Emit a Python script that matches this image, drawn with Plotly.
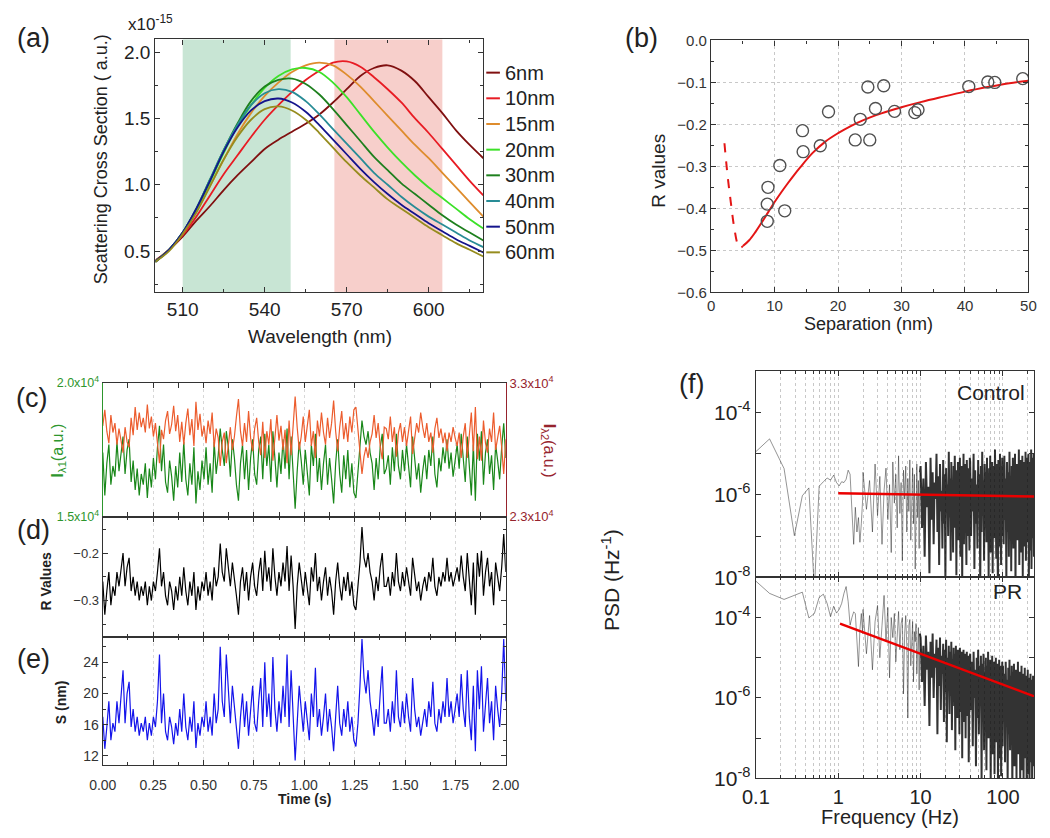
import numpy as np
import plotly.graph_objects as go

W, H = 1050, 838
FONT = 'Liberation Sans, Arial, sans-serif'

# ---------------- (a) scattering spectra ----------------
wavelength = [500, 505, 510, 515, 520, 525, 530, 535, 540, 545, 550, 555, 560,
              565, 570, 575, 580, 585, 590, 595, 600, 605, 610, 615, 620]
sca_6nm = [0.43, 0.51, 0.61, 0.73, 0.84, 0.96, 1.07, 1.17, 1.27, 1.34, 1.40, 1.46, 1.53,
           1.62, 1.72, 1.82, 1.88, 1.90, 1.86, 1.78, 1.66, 1.54, 1.41, 1.30, 1.20]
sca_10nm = [0.42, 0.51, 0.62, 0.76, 0.92, 1.08, 1.22, 1.36, 1.49, 1.60, 1.70, 1.79, 1.86,
            1.92, 1.93, 1.89, 1.81, 1.72, 1.62, 1.50, 1.39, 1.27, 1.15, 1.03, 0.92]
sca_15nm = [0.42, 0.51, 0.63, 0.80, 0.99, 1.19, 1.38, 1.54, 1.67, 1.77, 1.85, 1.90, 1.92,
            1.90, 1.83, 1.74, 1.63, 1.52, 1.41, 1.30, 1.20, 1.09, 0.98, 0.87, 0.76]
sca_20nm = [0.42, 0.51, 0.64, 0.81, 1.02, 1.24, 1.44, 1.60, 1.73, 1.82, 1.87, 1.88, 1.85,
            1.77, 1.66, 1.53, 1.40, 1.28, 1.17, 1.07, 0.98, 0.90, 0.82, 0.74, 0.67]
sca_30nm = [0.42, 0.51, 0.64, 0.82, 1.04, 1.26, 1.46, 1.63, 1.74, 1.79, 1.80, 1.76, 1.68,
            1.57, 1.45, 1.33, 1.21, 1.11, 1.01, 0.93, 0.85, 0.77, 0.70, 0.64, 0.58]
sca_40nm = [0.42, 0.51, 0.64, 0.82, 1.04, 1.26, 1.45, 1.60, 1.69, 1.72, 1.70, 1.63, 1.53,
            1.42, 1.31, 1.20, 1.09, 1.00, 0.91, 0.83, 0.76, 0.70, 0.64, 0.58, 0.53]
sca_50nm = [0.42, 0.51, 0.64, 0.82, 1.03, 1.25, 1.43, 1.56, 1.63, 1.65, 1.62, 1.55, 1.45,
            1.34, 1.23, 1.12, 1.02, 0.93, 0.85, 0.78, 0.71, 0.65, 0.59, 0.54, 0.49]
sca_60nm = [0.42, 0.50, 0.63, 0.79, 0.99, 1.19, 1.36, 1.49, 1.57, 1.59, 1.56, 1.49, 1.39,
            1.28, 1.17, 1.07, 0.98, 0.89, 0.82, 0.75, 0.68, 0.62, 0.56, 0.51, 0.46]
gap_names = ['6nm', '10nm', '15nm', '20nm', '30nm', '40nm', '50nm', '60nm']
gap_colors = ['rgb(128,16,16)', 'rgb(232,28,36)', 'rgb(222,140,45)', 'rgb(60,225,40)',
              'rgb(30,128,30)', 'rgb(40,140,150)', 'rgb(20,20,140)', 'rgb(150,140,30)']
green_band = [510, 549.5]
red_band = [565.5, 605]

# ---------------- (b) R vs separation ----------------
sep_pts = [8.96, 8.85, 8.85, 10.83, 11.6, 14.4, 14.5, 17.2, 18.5, 22.7, 23.5, 24.7,
           25.0, 25.9, 27.2, 28.9, 32.1, 32.6, 40.6, 43.6, 44.7, 49.1]
r_pts = [-0.350, -0.390, -0.431, -0.298, -0.406, -0.215, -0.265, -0.251, -0.170, -0.237,
         -0.188, -0.111, -0.237, -0.162, -0.108, -0.169, -0.172, -0.165, -0.110, -0.099,
         -0.100, -0.091]
fit_sep = [5, 6, 7, 8, 9, 10, 11, 12, 13, 14, 16, 18, 20, 22, 24, 26, 28, 30, 33, 36, 40, 44, 47, 50]
fit_r = [-0.490, -0.476, -0.456, -0.433, -0.409, -0.385, -0.363, -0.342, -0.322, -0.303,
         -0.268, -0.241, -0.221, -0.204, -0.190, -0.178, -0.168, -0.159, -0.147, -0.136,
         -0.122, -0.110, -0.102, -0.096]
ext_sep = [2.1, 2.6, 3.1, 3.65, 4.2, 4.6, 5.0]
ext_r = [-0.245, -0.323, -0.385, -0.447, -0.486, -0.494, -0.490]

# ---------------- (c) intensities (x10^4 a.u.) ----------------
i_lambda1 = [
    1.74, 1.58, 1.70, 1.77, 1.62, 1.69, 1.65, 1.78, 1.67, 1.73,
    1.80, 1.66, 1.75, 1.79, 1.63, 1.71, 1.60, 1.68, 1.58, 1.66,
    1.62, 1.70, 1.57, 1.68, 1.61, 1.72, 1.64, 1.76, 1.84, 1.67,
    1.77, 1.63, 1.59, 1.71, 1.65, 1.56, 1.69, 1.61, 1.74, 1.63,
    1.78, 1.64, 1.58, 1.70, 1.62, 1.76, 1.55, 1.67, 1.60, 1.71,
    1.64, 1.76, 1.62, 1.70, 1.59, 1.78, 1.66, 1.73, 1.83, 1.75,
    1.69, 1.82, 1.76, 1.65, 1.79, 1.72, 1.62, 1.56, 1.70, 1.77,
    1.64, 1.75, 1.60, 1.72, 1.79, 1.66, 1.62, 1.75, 1.80, 1.64,
    1.81, 1.69, 1.77, 1.63, 1.82, 1.72, 1.61, 1.74, 1.66, 1.79,
    1.68, 1.83, 1.64, 1.80, 1.66, 1.53, 1.67, 1.78, 1.71, 1.62,
    1.75, 1.67, 1.58, 1.77, 1.69, 1.81, 1.63, 1.72, 1.60, 1.70,
    1.77, 1.62, 1.72, 1.64, 1.55, 1.70, 1.79, 1.66, 1.59, 1.73,
    1.64, 1.75, 1.61, 1.70, 1.59, 1.57, 1.67, 1.79, 1.86, 1.80,
    1.77, 1.82, 1.74, 1.70, 1.60, 1.72, 1.64, 1.76, 1.81, 1.66,
    1.68, 1.73, 1.62, 1.76, 1.67, 1.81, 1.69, 1.64, 1.75, 1.67,
    1.77, 1.69, 1.61, 1.80, 1.72, 1.64, 1.70, 1.59, 1.67, 1.73,
    1.64, 1.75, 1.69, 1.80, 1.66, 1.61, 1.72, 1.67, 1.76, 1.70,
    1.79, 1.68, 1.74, 1.65, 1.71, 1.77, 1.68, 1.81, 1.72, 1.63,
    1.80, 1.69, 1.58, 1.77, 1.56, 1.81, 1.71, 1.82, 1.62, 1.74,
    1.79, 1.66, 1.73, 1.60, 1.77, 1.71, 1.64, 1.76, 1.85, 1.72]
i_lambda2 = [
    2.98, 3.10, 2.94, 2.85, 3.06, 2.93, 3.00, 2.84, 2.96, 2.88,
    2.78, 2.97, 2.86, 2.82, 3.04, 2.91, 3.12, 2.95, 3.08, 2.97,
    3.04, 2.93, 3.14, 2.96, 3.05, 2.90, 3.00, 2.85, 2.70, 2.95,
    2.88, 3.02, 3.09, 2.92, 2.99, 3.13, 2.94, 3.06, 2.86, 3.01,
    2.84, 3.00, 3.11, 2.91, 3.03, 2.83, 3.16, 2.95, 3.07, 2.90,
    2.98, 2.85, 3.02, 2.92, 3.08, 2.82, 2.96, 2.89, 2.68, 2.86,
    2.93, 2.70, 2.83, 2.97, 2.80, 2.90, 3.05, 3.18, 2.94, 2.83,
    3.00, 2.86, 3.09, 2.89, 2.79, 2.96, 3.04, 2.86, 2.76, 3.01,
    2.74, 2.94, 2.84, 3.03, 2.72, 2.90, 3.06, 2.87, 2.98, 2.80,
    2.95, 2.70, 3.02, 2.76, 2.99, 3.20, 2.97, 2.80, 2.90, 3.05,
    2.86, 2.97, 3.10, 2.83, 2.94, 2.74, 3.02, 2.90, 3.08, 2.93,
    2.84, 3.04, 2.89, 3.00, 3.17, 2.94, 2.79, 2.97, 3.09, 2.88,
    3.00, 2.86, 3.05, 2.93, 3.10, 3.12, 2.97, 2.78, 2.62, 2.75,
    2.82, 2.74, 2.86, 2.92, 3.06, 2.89, 3.00, 2.83, 2.73, 2.97,
    2.96, 2.88, 3.05, 2.86, 2.97, 2.75, 2.93, 3.00, 2.86, 2.97,
    2.83, 2.94, 3.05, 2.77, 2.90, 3.00, 2.93, 3.08, 2.97, 2.89,
    3.00, 2.86, 2.93, 2.78, 2.96, 3.04, 2.89, 2.96, 2.85, 2.93,
    2.79, 2.93, 2.86, 2.97, 2.89, 2.83, 2.93, 2.74, 2.90, 3.00,
    2.74, 2.93, 3.08, 2.79, 3.12, 2.73, 2.90, 2.72, 3.02, 2.85,
    2.78, 2.96, 2.86, 3.08, 2.80, 2.89, 2.98, 2.82, 2.62, 2.88]

# ---------------- (d) R values ----------------
r_values = [
    -0.26, -0.33, -0.28, -0.24, -0.31, -0.27, -0.29, -0.24, -0.27, -0.23,
    -0.20, -0.27, -0.23, -0.21, -0.28, -0.25, -0.29, -0.26, -0.30, -0.27,
    -0.29, -0.26, -0.31, -0.27, -0.30, -0.26, -0.28, -0.24, -0.19, -0.27,
    -0.24, -0.29, -0.31, -0.26, -0.28, -0.32, -0.27, -0.30, -0.25, -0.29,
    -0.23, -0.28, -0.31, -0.26, -0.29, -0.24, -0.32, -0.27, -0.30, -0.26,
    -0.28, -0.24, -0.29, -0.26, -0.30, -0.23, -0.27, -0.25, -0.18, -0.24,
    -0.26, -0.19, -0.23, -0.27, -0.22, -0.25, -0.29, -0.33, -0.26, -0.23,
    -0.28, -0.24, -0.30, -0.25, -0.22, -0.27, -0.29, -0.24, -0.21, -0.28,
    -0.195, -0.26, -0.23, -0.28, -0.19, -0.25, -0.29, -0.24, -0.27, -0.22,
    -0.26, -0.185, -0.28, -0.205, -0.27, -0.36, -0.27, -0.22, -0.25, -0.29,
    -0.24, -0.27, -0.31, -0.23, -0.26, -0.20, -0.28, -0.25, -0.30, -0.26,
    -0.23, -0.29, -0.25, -0.28, -0.33, -0.26, -0.22, -0.27, -0.30, -0.25,
    -0.28, -0.24, -0.29, -0.26, -0.31, -0.32, -0.27, -0.22, -0.145, -0.21,
    -0.23, -0.20, -0.24, -0.26, -0.30, -0.25, -0.28, -0.23, -0.20, -0.27,
    -0.27, -0.25, -0.29, -0.24, -0.27, -0.20, -0.26, -0.28, -0.24, -0.27,
    -0.23, -0.26, -0.29, -0.21, -0.25, -0.28, -0.26, -0.30, -0.27, -0.25,
    -0.28, -0.24, -0.26, -0.21, -0.27, -0.29, -0.25, -0.27, -0.24, -0.26,
    -0.21, -0.26, -0.24, -0.27, -0.25, -0.23, -0.26, -0.205, -0.25, -0.28,
    -0.20, -0.26, -0.31, -0.22, -0.33, -0.20, -0.25, -0.195, -0.29, -0.24,
    -0.21, -0.27, -0.24, -0.31, -0.22, -0.25, -0.28, -0.23, -0.16, -0.24]

# ---------------- (e) separation S (nm) ----------------
s_values = [
    17.0, 12.9, 15.7, 19.0, 14.0, 16.2, 15.1, 19.0, 16.2, 20.0,
    23.0, 16.2, 20.0, 21.5, 15.7, 18.0, 15.1, 17.0, 14.6, 16.2,
    15.1, 17.0, 14.0, 16.2, 14.6, 17.0, 15.7, 19.0, 25.0, 16.2,
    20.0, 15.1, 14.0, 17.0, 15.7, 13.5, 16.2, 14.6, 18.0, 15.1,
    20.0, 15.7, 14.0, 17.0, 15.1, 19.0, 13.0, 16.2, 14.6, 17.0,
    15.7, 19.0, 15.1, 17.0, 14.6, 20.0, 16.2, 18.0, 26.0, 19.0,
    17.0, 25.0, 20.0, 16.2, 21.0, 18.0, 15.1, 12.9, 17.0, 20.0,
    15.7, 19.0, 14.6, 18.0, 21.0, 16.2, 15.1, 19.0, 22.0, 15.7,
    24.0, 17.0, 20.0, 15.7, 24.7, 18.0, 15.1, 19.0, 16.2, 21.0,
    17.0, 25.0, 15.7, 23.0, 16.2, 11.4, 16.2, 21.0, 18.0, 15.1,
    19.0, 16.2, 14.0, 20.0, 17.0, 23.3, 15.7, 18.0, 14.6, 17.0,
    20.0, 15.1, 18.0, 15.7, 12.6, 17.0, 21.0, 16.2, 14.6, 18.0,
    15.7, 19.0, 15.1, 17.0, 14.0, 13.2, 16.2, 21.0, 27.0, 22.0,
    20.0, 23.0, 19.0, 17.0, 14.6, 18.0, 15.7, 20.0, 23.5, 16.2,
    16.2, 18.0, 15.1, 19.0, 16.2, 23.0, 17.0, 15.7, 19.0, 16.2,
    20.0, 17.0, 15.1, 22.0, 18.0, 15.7, 17.0, 14.6, 16.2, 18.0,
    15.7, 19.0, 17.0, 21.5, 16.2, 15.1, 18.0, 16.2, 19.0, 17.0,
    22.0, 17.0, 19.0, 16.2, 18.0, 20.0, 17.0, 22.5, 18.0, 15.7,
    23.0, 17.0, 14.0, 21.0, 12.6, 23.0, 18.0, 23.5, 15.1, 19.0,
    22.0, 16.2, 19.0, 14.0, 21.0, 18.0, 15.7, 20.0, 27.0, 19.0]

# ---------------- (f) power spectra, log10(PSD / Hz^-1) ----------------
ctrl_lo = [-5.2, -4.64, -5.36, -6.99, -6.02, -5.83, -8.3, -5.79, -5.68, -5.59, -5.64, -5.52,
           -5.70, -5.78, -5.68, -5.70, -5.62, -5.40, -5.50, -6.40, -7.20, -6.30, -6.90,
           -6.55, -7.15, -6.70, -6.10]
ctrl_2_10 = [-5.45, -6.35, -5.65, -6.9, -5.25, -6.5, -5.55, -7.2, -5.9, -5.35, -6.6, -5.75,
             -7.4, -5.2, -6.2, -5.5, -6.8, -5.05, -6.45, -5.7, -7.6, -5.4, -6.1, -5.3, -6.9,
             -5.6, -6.4, -5.15, -7.1, -5.8, -5.35, -6.7, -5.5, -7.8, -5.95, -5.25, -6.55,
             -5.65, -7.3, -5.45]
ctrl_10_40 = [-5.3, -6.8, -5.6, -7.5, -5.2, -6.3, -5.8, -7.9, -5.1, -6.6, -5.45, -7.2, -5.7,
              -6.1, -5.0, -6.9, -5.55, -7.7, -5.25, -6.4, -5.9, -7.3, -5.15, -6.7, -5.5, -8.1,
              -5.35, -6.2, -5.75, -7.0, -4.95, -6.55, -5.6, -7.6, -5.2, -6.35, -5.85, -7.4,
              -5.3, -6.8, -5.05, -6.15, -5.65, -7.95, -5.4, -6.6, -5.2, -7.1, -5.8, -6.3,
              -5.1, -7.5, -5.5, -6.75, -5.3, -8.2, -5.7, -6.45, -5.0, -7.2, -5.45, -6.9,
              -5.25, -6.2, -5.9, -7.7, -5.15, -6.5, -5.6, -7.0, -5.35, -6.35, -5.8, -7.35, -5.1]
ctrl_40_100 = [-5.2, -7.0, -5.6, -6.4, -5.0, -7.8, -5.4, -6.7, -5.75, -7.3, -5.15, -6.2, -5.5,
               -8.3, -5.3, -6.9, -4.95, -6.5, -5.65, -7.6, -5.25, -6.3, -5.45, -7.15, -5.1,
               -6.8, -5.8, -8.0, -5.35, -6.45, -5.05, -7.4, -5.55, -6.6, -5.2, -7.9, -5.7,
               -6.25, -5.3, -7.05, -4.9, -6.75, -5.5, -7.55, -5.25, -6.35, -5.6, -8.4, -5.15,
               -6.85, -5.4, -7.25, -5.0, -6.55, -5.7, -7.7, -5.3, -6.4, -5.1, -7.0]
ctrl_100_240 = [-5.35, -7.2, -5.05, -6.6, -5.6, -8.1, -5.2, -6.9, -5.45, -7.5, -4.95, -6.4,
                -5.7, -7.85, -5.3, -6.7, -5.1, -7.3, -5.55, -6.3, -5.0, -8.3, -5.4, -6.8,
                -5.25, -7.1, -5.65, -6.5, -4.9, -7.7, -5.35, -6.95, -5.15, -7.4, -5.5, -6.35,
                -5.05, -8.0, -5.45, -6.75, -5.2, -7.25, -5.75, -6.55, -4.95, -7.6, -5.3,
                -6.85, -5.1, -7.15, -5.6, -6.45, -5.0, -8.2, -5.4, -6.9, -5.2, -7.35, -5.55,
                -6.6, -4.9, -7.8, -5.3, -6.7, -5.1, -7.05, -5.45, -6.4, -5.0, -7.5, -5.25]
pr_lo = [-2.85, -3.4, -3.55, -3.45, -3.37, -4.01, -3.9, -3.5, -3.42, -3.65, -3.98, -3.72,
         -3.89, -3.8, -3.65, -3.4, -3.23, -3.6, -4.19, -4.0, -3.86, -3.9, -4.5, -5.22, -4.3,
         -3.9, -4.4]
pr_2_10 = [-3.8, -4.9, -3.95, -5.3, -4.1, -3.7, -5.0, -4.2, -3.45, -4.6, -3.75, -5.5, -4.0,
           -4.5, -3.9, -5.1, -4.3, -3.85, -4.8, -4.15, -4.0, -5.9, -4.4, -3.95, -4.7, -6.5,
           -4.2, -4.05, -5.2, -4.5, -4.1, -5.6, -4.35, -4.6, -4.15, -5.4, -4.45, -4.25, -5.8,
           -4.4]
pr_10_40 = [-4.5, -5.6, -4.7, -6.2, -4.45, -5.3, -4.85, -6.7, -4.6, -5.5, -4.4, -6.0, -4.9,
            -5.25, -4.55, -6.9, -4.75, -5.7, -4.5, -6.3, -4.95, -5.4, -4.65, -6.6, -4.8, -5.85,
            -4.55, -7.1, -5.0, -5.5, -4.7, -6.4, -4.85, -5.95, -4.6, -6.8, -5.05, -5.6, -4.75,
            -6.2, -4.9, -7.3, -4.7, -5.75, -5.1, -6.5, -4.8, -5.9, -4.95, -6.9, -4.75, -5.65,
            -5.15, -6.35, -4.85, -7.5, -5.0, -5.8, -4.8, -6.6, -5.2, -6.0, -4.9, -7.0, -5.05,
            -5.7, -4.85, -6.45, -5.25, -6.1, -4.95, -7.6, -5.1, -5.9, -5.0]
pr_40_100 = [-4.9, -6.3, -5.1, -7.2, -4.85, -6.0, -5.3, -7.7, -5.0, -6.5, -4.8, -6.9, -5.2,
             -6.1, -4.95, -8.0, -5.15, -6.6, -4.9, -7.3, -5.35, -6.2, -5.0, -7.8, -5.2, -6.7,
             -4.85, -7.0, -5.4, -6.3, -5.05, -8.2, -5.25, -6.55, -4.95, -7.4, -5.45, -6.15,
             -5.1, -7.9, -5.3, -6.8, -5.0, -7.1, -5.5, -6.4, -5.15, -8.3, -5.35, -6.65, -5.05,
             -7.5, -5.55, -6.25, -5.2, -7.95, -5.4, -6.9, -5.1, -7.2]
pr_100_240 = [-5.2, -6.6, -5.4, -7.6, -5.1, -6.3, -5.55, -8.1, -5.25, -6.9, -5.05, -7.3, -5.45,
              -6.5, -5.2, -8.4, -5.35, -6.8, -5.15, -7.7, -5.6, -6.4, -5.3, -8.0, -5.45, -7.0,
              -5.1, -7.4, -5.65, -6.6, -5.35, -8.3, -5.5, -6.85, -5.2, -7.8, -5.7, -6.45, -5.4,
              -8.2, -5.55, -7.1, -5.25, -7.5, -5.75, -6.7, -5.45, -8.4, -5.6, -6.95, -5.3, -7.9,
              -5.8, -6.55, -5.5, -8.1, -5.65, -7.2, -5.4, -7.6, -5.85, -6.8, -5.55, -8.3, -5.7,
              -7.05, -5.45, -7.7, -5.9, -6.65, -5.6]
ctrl_fit_f = [1.0, 240]
ctrl_fit = [-5.96, -6.04]
pr_fit_f = [1.05, 240]
pr_fit = [-4.15, -5.96]


def freq_grid(n_lo, n2, n3, n4, n5):
    # spectral sampling: fine linear grid below 2 Hz, coarser steps above
    return np.concatenate([np.arange(1, n_lo + 1) * 0.0733,
                           np.linspace(2.0, 9.8, n2), np.linspace(10, 39.6, n3),
                           np.linspace(40, 99, n4), np.linspace(100, 240, n5)])


ctrl_f = freq_grid(len(ctrl_lo), len(ctrl_2_10), len(ctrl_10_40), len(ctrl_40_100), len(ctrl_100_240))
ctrl_psd = 10 ** np.array(ctrl_lo + ctrl_2_10 + ctrl_10_40 + ctrl_40_100 + ctrl_100_240)
pr_f = freq_grid(len(pr_lo), len(pr_2_10), len(pr_10_40), len(pr_40_100), len(pr_100_240))
pr_psd = 10 ** np.array(pr_lo + pr_2_10 + pr_10_40 + pr_40_100 + pr_100_240)
n_soft = len(ctrl_lo) + len(ctrl_2_10)     # below 10 Hz the trace is drawn lighter

time_s = np.linspace(0, 2, len(r_values))

# ---------------- figure ----------------
fig = go.Figure()

for name, ys, col in zip(gap_names,
                         [sca_6nm, sca_10nm, sca_15nm, sca_20nm, sca_30nm, sca_40nm, sca_50nm, sca_60nm],
                         gap_colors):
    fig.add_trace(go.Scatter(x=wavelength, y=ys, name=name, mode='lines', showlegend=False,
                             line=dict(color=col, width=1.8, shape='spline', smoothing=1),
                             xaxis='x', yaxis='y'))

fig.add_trace(go.Scatter(x=fit_sep, y=fit_r, mode='lines', showlegend=False,
                         line=dict(color='rgb(228,22,22)', width=2, shape='spline'),
                         xaxis='x2', yaxis='y2'))
fig.add_trace(go.Scatter(x=ext_sep, y=ext_r, mode='lines', showlegend=False,
                         line=dict(color='rgb(228,22,22)', width=2, dash='dash', shape='spline'),
                         xaxis='x2', yaxis='y2'))
fig.add_trace(go.Scatter(x=sep_pts, y=r_pts, mode='markers', showlegend=False,
                         marker=dict(symbol='circle-open', size=12, color='rgb(80,80,80)',
                                     line=dict(width=1.4)),
                         xaxis='x2', yaxis='y2'))

fig.add_trace(go.Scatter(x=time_s, y=i_lambda1, mode='lines', showlegend=False,
                         line=dict(color='rgb(25,135,25)', width=1.2), xaxis='x3', yaxis='y3'))
fig.add_trace(go.Scatter(x=time_s, y=i_lambda2, mode='lines', showlegend=False,
                         line=dict(color='rgb(236,92,45)', width=1.2), xaxis='x3', yaxis='y4'))
fig.add_trace(go.Scatter(x=time_s, y=r_values, mode='lines', showlegend=False,
                         line=dict(color='black', width=1.2), xaxis='x5', yaxis='y5'))
fig.add_trace(go.Scatter(x=time_s, y=s_values, mode='lines', showlegend=False,
                         line=dict(color='rgb(20,20,235)', width=1.2), xaxis='x6', yaxis='y6'))

soft_line = dict(color='rgba(0,0,0,0.42)', width=1)
dense_line = dict(color='rgba(0,0,0,0.8)', width=2)
for f, psd, fit_f, fit, xa, ya in [(ctrl_f, ctrl_psd, ctrl_fit_f, ctrl_fit, 'x7', 'y7'),
                                   (pr_f, pr_psd, pr_fit_f, pr_fit, 'x8', 'y8')]:
    fig.add_trace(go.Scatter(x=f[:n_soft], y=psd[:n_soft], mode='lines', showlegend=False,
                             line=soft_line, xaxis=xa, yaxis=ya))
    fig.add_trace(go.Scatter(x=f[n_soft - 1:], y=psd[n_soft - 1:], mode='lines', showlegend=False,
                             line=dense_line, xaxis=xa, yaxis=ya))
    fig.add_trace(go.Scatter(x=fit_f, y=10 ** np.array(fit), mode='lines', showlegend=False,
                             line=dict(color='rgb(235,0,0)', width=2.5), xaxis=xa, yaxis=ya))


def dom_x(a, b):
    return [a / W, b / W]


def dom_y(top, bottom):
    return [1 - bottom / H, 1 - top / H]


def box(**kw):
    d = dict(showline=True, linecolor='#333', linewidth=1.3, mirror='allticks',
             ticks='inside', ticklen=5, tickcolor='#333', zeroline=False, showgrid=False,
             tickfont=dict(family=FONT, size=14, color='#333'))
    d.update(kw)
    return d


grid_dot = dict(showgrid=True, gridcolor='rgb(200,200,200)', griddash='dot', gridwidth=1)
time_grid = dict(showgrid=True, gridcolor='rgb(215,215,215)', griddash='dot', gridwidth=1)
minor_f = [v * d for d in (0.1, 1, 10, 100) for v in range(2, 10) if v * d <= 240]
green_c = 'rgb(45,150,45)'
red_c = 'rgb(150,35,45)'
TX = [83, 497]          # time panels, left/right px

fig.update_layout(
    width=W, height=H, margin=dict(l=0, r=0, t=0, b=0),
    paper_bgcolor='white', plot_bgcolor='white', showlegend=False,
    font=dict(family=FONT, color='#222'),
    xaxis=box(domain=dom_x(137, 474), anchor='y', range=[500, 620], tickvals=[510, 540, 570, 600],
              minor=dict(dtick=15, tick0=0, ticks='inside', ticklen=3, tickcolor='#333'),
              tickfont=dict(family=FONT, size=19, color='#222')),
    yaxis=box(domain=dom_y(23, 282), anchor='x', range=[0.19, 2.095], tickvals=[0.5, 1.0, 1.5, 2.0],
              tickformat='.1f',
              minor=dict(dtick=0.25, ticks='inside', ticklen=3, tickcolor='#333'),
              tickfont=dict(family=FONT, size=19, color='#222')),
    xaxis2=box(domain=dom_x(708, 1034), anchor='y2', range=[0, 50], dtick=10,
               minor=dict(dtick=5, ticks='inside', ticklen=3, tickcolor='#333'),
               tickfont=dict(family=FONT, size=15, color='#333'), **grid_dot),
    yaxis2=box(domain=dom_y(24, 282), anchor='x2', range=[-0.6, 0.0], dtick=0.1, tickformat='.1f',
               minor=dict(dtick=0.05, ticks='inside', ticklen=3, tickcolor='#333'),
               tickfont=dict(family=FONT, size=15, color='#333'), **grid_dot),
    xaxis3=box(domain=dom_x(*TX), anchor='y3', range=[0, 2], dtick=0.25, showticklabels=False,
               minor=dict(dtick=0.125, ticks='inside', ticklen=3, tickcolor='#333'), **time_grid),
    yaxis3=dict(domain=dom_y(375, 512), anchor='x3', range=[1.4999, 2.0001], tickvals=[1.5, 2.0],
                ticktext=['1.5x10<sup>4</sup>', '2.0x10<sup>4</sup>'], showline=True,
                linecolor=green_c, linewidth=1.3, ticks='', showgrid=False, zeroline=False,
                tickfont=dict(family=FONT, size=12.5, color=green_c)),
    yaxis4=dict(overlaying='y3', side='right', anchor='x3', range=[2.2999, 3.3001],
                tickvals=[2.3, 3.3], ticktext=['2.3x10<sup>4</sup>', '3.3x10<sup>4</sup>'],
                showline=True, linecolor=red_c, linewidth=1.3, ticks='', showgrid=False,
                zeroline=False, tickfont=dict(family=FONT, size=13, color=red_c)),
    xaxis5=box(domain=dom_x(*TX), anchor='y5', range=[0, 2], dtick=0.25, showticklabels=False,
               minor=dict(dtick=0.125, ticks='inside', ticklen=3, tickcolor='#333'), **time_grid),
    yaxis5=box(domain=dom_y(512, 635), anchor='x5', range=[-0.3765, -0.1235], tickvals=[-0.3, -0.2],
               tickformat='.1f', minor=dict(dtick=0.05, ticks='inside', ticklen=3, tickcolor='#333'),
               tickfont=dict(family=FONT, size=13, color='#333')),
    xaxis6=box(domain=dom_x(*TX), anchor='y6', range=[0, 2], dtick=0.25, tickformat='.2f',
               ticklabelstandoff=7,
               minor=dict(dtick=0.125, ticks='inside', ticklen=3, tickcolor='#333'),
               tickfont=dict(family=FONT, size=14, color='#333'), **time_grid),
    yaxis6=box(domain=dom_y(635, 766), anchor='x6', range=[10.86, 27.28], tickvals=[12, 16, 20, 24],
               minor=dict(dtick=2, ticks='inside', ticklen=3, tickcolor='#333'),
               tickfont=dict(family=FONT, size=14, color='#333')),
    xaxis7=box(domain=dom_x(754, 1040), anchor='y7', type='log', range=[-1, np.log10(240)],
               tickvals=[0.1, 1, 10, 100], showticklabels=False, **grid_dot,
               minor=dict(tickvals=minor_f, ticks='inside', ticklen=3, tickcolor='#333',
                          showgrid=True, gridcolor='rgb(200,200,200)', griddash='dot')),
    yaxis7=box(domain=dom_y(363, 574), anchor='x7', type='log', range=[-8, -3],
               tickvals=[1e-8, 1e-7, 1e-6, 1e-5, 1e-4, 1e-3],
               ticktext=['10<sup>-8</sup>', '', '10<sup>-6</sup>', '', '10<sup>-4</sup>', ''],
               tickfont=dict(family=FONT, size=21, color='#222')),
    xaxis8=box(domain=dom_x(754, 1040), anchor='y8', type='log', range=[-1, np.log10(240)],
               tickvals=[0.1, 1, 10, 100], ticktext=['0.1', '1', '10', '100'], **grid_dot,
               minor=dict(tickvals=minor_f, ticks='inside', ticklen=3, tickcolor='#333',
                          showgrid=True, gridcolor='rgb(200,200,200)', griddash='dot'),
               tickfont=dict(family=FONT, size=20, color='#222')),
    yaxis8=box(domain=dom_y(574, 780), anchor='x8', type='log', range=[-8, -3],
               tickvals=[1e-8, 1e-7, 1e-6, 1e-5, 1e-4, 1e-3],
               ticktext=['10<sup>-8</sup>', '', '10<sup>-6</sup>', '', '10<sup>-4</sup>', ''],
               tickfont=dict(family=FONT, size=21, color='#222')),
)

# shaded wavelength windows in (a)
for (x0, x1), col in [(green_band, 'rgb(200,229,212)'), (red_band, 'rgb(247,207,203)')]:
    fig.add_shape(type='rect', xref='x', yref='y domain', x0=x0, x1=x1, y0=0, y1=1,
                  fillcolor=col, line=dict(width=0), layer='below')

annotations = []


def text(s, x, y, size, color='#222', angle=0, xanchor='center'):
    annotations.append(dict(text=s, x=x / W, y=1 - y / H, xref='paper', yref='paper',
                            showarrow=False, textangle=angle, xanchor=xanchor, yanchor='middle',
                            font=dict(family=FONT, size=size, color=color)))


# legend of panel (a): short line + label per gap size
for k, (name, col) in enumerate(zip(gap_names, gap_colors)):
    ly = 57 + 26.3 * k
    fig.add_shape(type='line', xref='paper', yref='paper', x0=477 / W, x1=491 / W,
                  y0=1 - ly / H, y1=1 - ly / H, line=dict(color=col, width=2))
    text(name, 494, ly, 20, xanchor='left')

# panel letters
text('(a)', 12, 22, 27)
text('(b)', 636, 22, 27)
text('(c)', 10, 390, 27)
text('(d)', 12, 526, 27)
text('(e)', 12, 658, 27)
text('(f)', 688, 376, 27)

# axis titles
text('x10<sup>-15</sup>', 132, 6, 17)
text('Scattering Cross Section ( a.u.)', 81, 146, 18, angle=-90)
text('Wavelength (nm)', 306, 327, 19)
text('R values', 654, 158, 19, angle=-90)
text('Separation (nm)', 870, 315, 18)
text('<b>I</b><sub>λ1</sub>(a.u.)', 37, 444, 16, color=green_c, angle=-90)
text('<b>I</b><sub>λ2</sub>(a.u.)', 541, 444, 16, color=red_c, angle=90)
text('<b>R Values</b>', 25, 578, 14, angle=-90)
text('<b>S (nm)</b>', 40, 702, 14, angle=-90)
text('<b>Time (s)</b>', 290, 801, 14)
text('PSD (Hz<sup>-1</sup>)', 605, 577, 21, angle=-90)
text('Frequency (Hz)', 892, 820, 20)
text('Control', 996, 385, 21)
text('PR', 1013, 589, 21)

fig.update_layout(annotations=annotations)

fig.write_html('out.html')
